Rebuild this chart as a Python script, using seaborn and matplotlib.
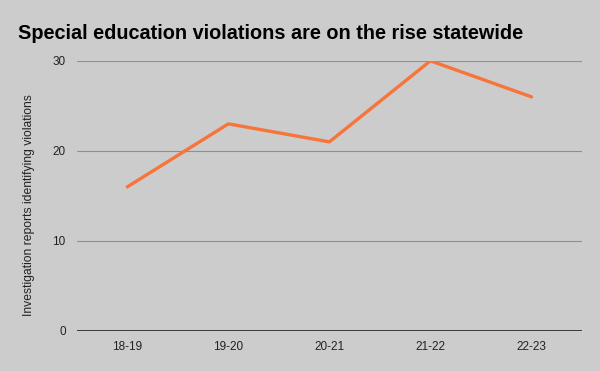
import matplotlib
matplotlib.use("Agg")
import matplotlib.pyplot as plt
import seaborn as sns
import pandas as pd

# Data
years = ["18-19", "19-20", "20-21", "21-22", "22-23"]
violations = [16, 23, 21, 30, 26]

df = pd.DataFrame({"year": years, "violations": violations})

sns.set_theme(style="white")
plt.rcParams["font.family"] = ["Liberation Sans", "DejaVu Sans"]

bg = "#cccccc"
fig = plt.figure(figsize=(6, 3.71), dpi=100, facecolor=bg)
ax = fig.add_axes([0.128, 0.108, 0.842, 0.728])
ax.set_facecolor(bg)

sns.lineplot(data=df, x="year", y="violations", ax=ax, color="#f7743a",
             linewidth=2.4, sort=False)

ax.set_xlim(-0.5, 4.5)
ax.set_ylim(0, 30)
ax.set_yticks([0, 10, 20, 30])
ax.grid(axis="y", color="#8f8f8f", linewidth=0.8)
ax.axhline(0, color="#222222", linewidth=1.2, zorder=3)
for s in ax.spines.values():
    s.set_visible(False)
ax.tick_params(axis="both", length=0, labelsize=8.5, colors="#222222")
ax.tick_params(axis="y", pad=8)
ax.tick_params(axis="x", pad=7)

ax.set_xlabel("")
ax.set_ylabel("Investigation reports identifying violations", fontsize=8.7,
              color="#222222")
ax.yaxis.set_label_coords(-0.082, 0.467)

fig.text(0.03, 0.91, "Special education violations are on the rise statewide",
         fontsize=14.3, fontweight="bold", color="black", va="center")

plt.savefig("out.png", dpi=100, facecolor=bg)
